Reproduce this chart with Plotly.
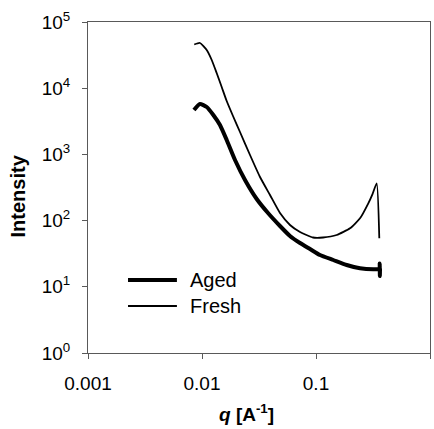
import plotly.graph_objects as go

# Scattering profiles: q in inverse Angstrom, intensity in arbitrary units
q_fresh = [0.00855, 0.00960, 0.01100, 0.01217, 0.01345, 0.01489, 0.01647,
           0.01870, 0.02154, 0.02637, 0.03227, 0.03949, 0.04832, 0.05913,
           0.07239, 0.09412, 0.1152, 0.1519, 0.1987, 0.2432, 0.2876,
           0.3131, 0.3407, 0.3591]
i_fresh = [45700, 48170, 37760, 26680, 16960, 10420, 6405,
           3802, 2179, 979.3, 455.6, 243.6, 130.2, 85.8,
           67.3, 55.55, 55.55, 60.6, 76.5, 108.3, 182.5,
           252.0, 365.9, 54.0]

q_aged = [0.00850, 0.00960, 0.01100, 0.01257, 0.01438, 0.01647, 0.01948,
          0.02384, 0.03019, 0.03793, 0.04832, 0.05913, 0.07239, 0.08858,
          0.1084, 0.1418, 0.1859, 0.2432, 0.3181, 0.3600, 0.3620, 0.3632,
          0.3645]
i_aged = [4686, 5771, 5200, 3938, 2781, 1650, 823,
          410.6, 212.0, 130.2, 82.85, 58.53, 45.86, 37.24,
          30.2, 25.4, 21.35, 19.03, 18.38, 18.6, 22.5, 14.5,
          19.0]

x_tickvals = [0.001, 0.01, 0.1, 1]
x_ticktext = ["0.001", "0.01", "0.1", "1"]
y_tickvals = [1, 10, 100, 1000, 10000, 100000]
y_ticktext = ["10<sup>0</sup>", "10<sup>1</sup>", "10<sup>2</sup>",
              "10<sup>3</sup>", "10<sup>4</sup>", "10<sup>5</sup>"]

series_names = ["Aged", "Fresh"]
series_widths = [4, 1.8]

FONT = "Liberation Sans, Arial, sans-serif"

fig = go.Figure()
fig.add_trace(go.Scatter(x=q_aged, y=i_aged, mode="lines", name=series_names[0],
                         line=dict(color="black", width=series_widths[0],
                                   shape="spline", smoothing=0.5),
                         showlegend=False))
fig.add_trace(go.Scatter(x=q_fresh, y=i_fresh, mode="lines", name=series_names[1],
                         line=dict(color="black", width=series_widths[1],
                                   shape="spline", smoothing=0.5),
                         showlegend=False))

axis_common = dict(
    showline=True, linecolor="#595959", linewidth=1, mirror=True,
    ticks="outside", ticklen=5, tickcolor="#595959", tickwidth=1,
    showgrid=False, zeroline=False,
    tickfont=dict(family=FONT, size=19, color="black"),
)
fig.update_xaxes(type="log", range=[-3, 0], tickvals=x_tickvals,
                 ticktext=x_ticktext, ticklabelstandoff=8, **axis_common)
fig.update_yaxes(type="log", range=[0, 5], tickvals=y_tickvals,
                 ticktext=y_ticktext, ticklabelstandoff=8, **axis_common)

# Hand-placed legend: line sample plus label for each series
legend_y = [0.2205, 0.142]
for name, width, ly in zip(series_names, series_widths, legend_y):
    fig.add_shape(type="line", xref="x domain", yref="y domain",
                  x0=0.117, x1=0.260, y0=ly, y1=ly,
                  line=dict(color="black", width=width))
    fig.add_annotation(text=name, xref="x domain", yref="y domain",
                       x=0.292, y=ly, xanchor="left", yanchor="middle",
                       showarrow=False,
                       font=dict(family=FONT, size=20, color="black"))

# Axis titles
fig.add_annotation(text="<b><i>q</i> [A<sup>-1</sup>]</b>", xref="x domain",
                   yref="y domain", x=0.462, y=-0.181, xanchor="center",
                   yanchor="middle", showarrow=False,
                   font=dict(family=FONT, size=19, color="black"))
fig.add_annotation(text="<b>Intensity</b>", xref="x domain", yref="y domain",
                   x=-0.2047, y=0.476, xanchor="center", yanchor="middle",
                   textangle=-90, showarrow=False,
                   font=dict(family=FONT, size=20, color="black"))

fig.update_layout(
    width=434, height=429,
    margin=dict(l=88, r=4, t=22, b=76),
    paper_bgcolor="white", plot_bgcolor="white",
)

fig.write_html("out.html")
